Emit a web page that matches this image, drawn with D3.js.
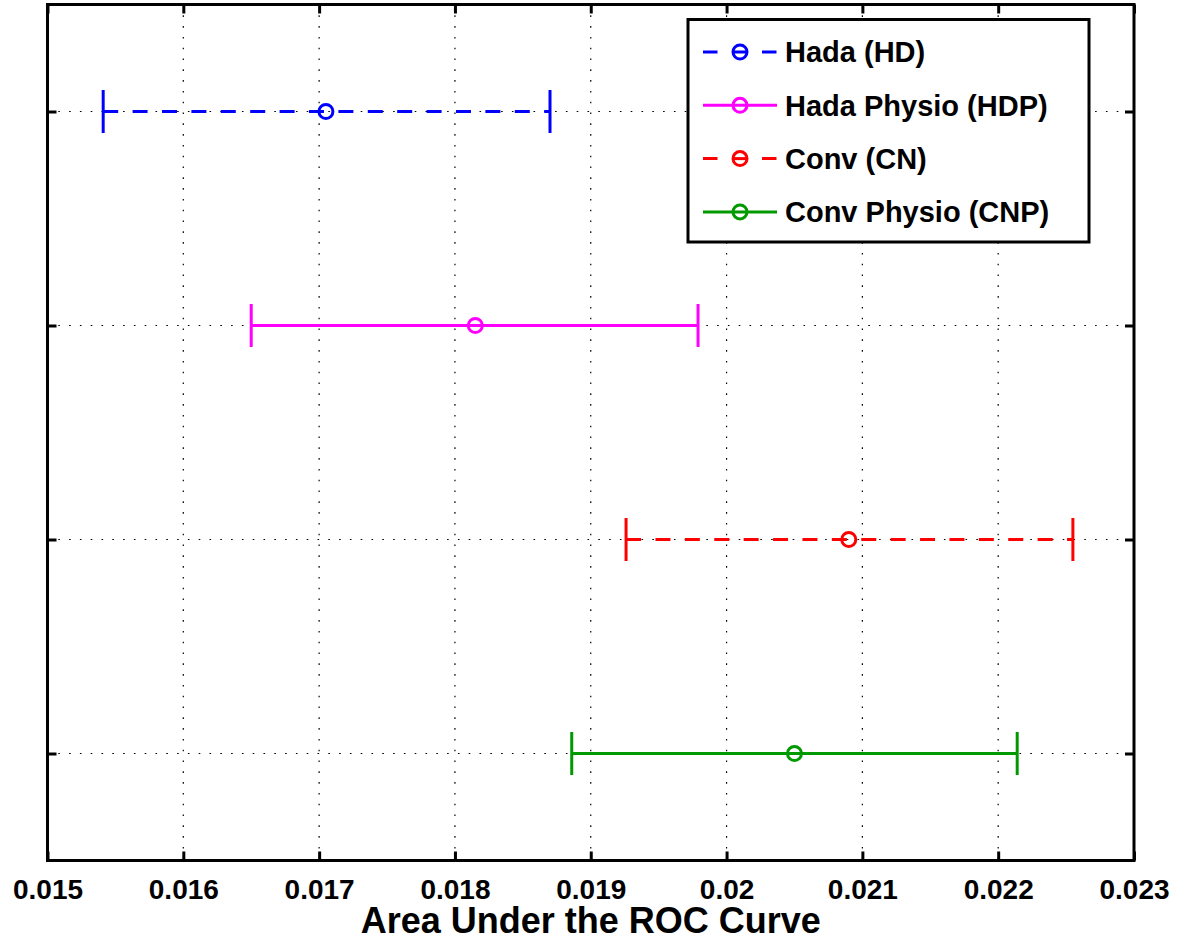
<!DOCTYPE html>
<html>
<head>
<meta charset="utf-8">
<script src="https://cdn.jsdelivr.net/npm/d3@7/dist/d3.min.js"></script>
<style>
  html, body { margin: 0; padding: 0; background: #fff; }
  svg { display: block; }
  text { font-family: "Liberation Sans", Arial, Helvetica, sans-serif; font-weight: bold; fill: #000; }
</style>
</head>
<body>
<svg id="chart" width="1183" height="940"></svg>
<script>
// Methods, their AUC point estimates and interval bounds
const methods = ["Hada (HD)", "Hada Physio (HDP)", "Conv (CN)", "Conv Physio (CNP)"];
const aucMean = [0.01705, 0.01815, 0.02090, 0.02050];
const aucLow  = [0.01541, 0.01650, 0.01926, 0.01886];
const aucHigh = [0.01870, 0.01979, 0.02255, 0.02214];
const rowPos  = [4, 3, 2, 1];
const colors  = ["#0000ff", "#ff00ff", "#ff0000", "#009900"];
const dashed  = [true, false, true, false];

const xTicks = [0.015, 0.016, 0.017, 0.018, 0.019, 0.020, 0.021, 0.022, 0.023];
const xTickLabels = ["0.015", "0.016", "0.017", "0.018", "0.019", "0.02", "0.021", "0.022", "0.023"];
const xTitle = "Area Under the ROC Curve";

const svg = d3.select("#chart");
const pL = 47.5, pR = 1134, pT = 4.5, pB = 860.5;

const x = d3.scaleLinear().domain([0.015, 0.023]).range([pL, pR]);
const y = d3.scaleLinear().domain([0.5, 4.5]).range([pB, pT]);

// dotted grid
const grid = svg.append("g").attr("stroke", "#000").attr("stroke-width", 1.2)
  .attr("stroke-dasharray", "1.6,9.2");
grid.selectAll("line.v").data(xTicks.slice(1, -1)).join("line")
  .attr("x1", d => x(d)).attr("x2", d => x(d))
  .attr("y1", pT).attr("y2", pB);
grid.selectAll("line.h").data(rowPos).join("line")
  .attr("x1", pL).attr("x2", pR)
  .attr("y1", d => y(d)).attr("y2", d => y(d));

// axes: bottom with labels, top/left/right with inward ticks only
const tickLen = 9;
const bottomAxis = d3.axisBottom(x).tickValues(xTicks)
  .tickFormat((d, i) => xTickLabels[i]).tickSizeInner(-tickLen).tickSizeOuter(0).tickPadding(19);
const gB = svg.append("g").attr("transform", `translate(0,${pB})`).call(bottomAxis);
gB.select(".domain").remove();
gB.selectAll("line").attr("stroke", "#000").attr("stroke-width", 3);
gB.selectAll("text").style("font-size", "28px").attr("dy", "0.71em")
  .style("font-family", "'Liberation Sans', Arial, sans-serif").style("font-weight", "bold");

const gT = svg.append("g").attr("transform", `translate(0,${pT})`)
  .call(d3.axisTop(x).tickValues(xTicks).tickFormat("").tickSizeInner(-tickLen).tickSizeOuter(0));
gT.select(".domain").remove();
gT.selectAll("line").attr("stroke", "#000").attr("stroke-width", 3);

const gL = svg.append("g").attr("transform", `translate(${pL},0)`)
  .call(d3.axisLeft(y).tickValues(rowPos).tickFormat("").tickSizeInner(-tickLen).tickSizeOuter(0));
gL.select(".domain").remove();
gL.selectAll("line").attr("stroke", "#000").attr("stroke-width", 3);

const gR = svg.append("g").attr("transform", `translate(${pR},0)`)
  .call(d3.axisRight(y).tickValues(rowPos).tickFormat("").tickSizeInner(-tickLen).tickSizeOuter(0));
gR.select(".domain").remove();
gR.selectAll("line").attr("stroke", "#000").attr("stroke-width", 3);

// frame
svg.append("rect").attr("x", pL).attr("y", pT)
  .attr("width", pR - pL).attr("height", pB - pT)
  .attr("fill", "none").attr("stroke", "#000").attr("stroke-width", 3);

// error bars
const capHalf = 21.5;
const rows = methods.map((m, i) => ({ m, i, mean: aucMean[i], lo: aucLow[i], hi: aucHigh[i], row: rowPos[i] }));
const bars = svg.append("g").selectAll("g").data(rows).join("g")
  .attr("stroke", d => colors[d.i]).attr("stroke-width", 3).attr("fill", "none");
bars.append("line")
  .attr("x1", d => x(d.lo)).attr("x2", d => x(d.hi))
  .attr("y1", d => y(d.row)).attr("y2", d => y(d.row))
  .attr("stroke-dasharray", d => dashed[d.i] ? "15,14.4" : null);
bars.append("line")
  .attr("x1", d => x(d.lo)).attr("x2", d => x(d.lo))
  .attr("y1", d => y(d.row) - capHalf).attr("y2", d => y(d.row) + capHalf);
bars.append("line")
  .attr("x1", d => x(d.hi)).attr("x2", d => x(d.hi))
  .attr("y1", d => y(d.row) - capHalf).attr("y2", d => y(d.row) + capHalf);
bars.append("circle")
  .attr("cx", d => x(d.mean)).attr("cy", d => y(d.row)).attr("r", 7);

// x-axis title
svg.append("text").attr("x", (pL + pR) / 2).attr("y", 933)
  .attr("text-anchor", "middle").style("font-size", "36px").text(xTitle);

// legend
const lg = svg.append("g");
lg.append("rect").attr("x", 688).attr("y", 19.5).attr("width", 401).attr("height", 222.5)
  .attr("fill", "#fff").attr("stroke", "#000").attr("stroke-width", 3);
const lgRowY = i => 52 + i * 53.3;
const items = lg.selectAll("g.item").data(rows).join("g").attr("class", "item");
items.append("line")
  .attr("x1", 703).attr("x2", 777)
  .attr("y1", d => lgRowY(d.i)).attr("y2", d => lgRowY(d.i))
  .attr("stroke", d => colors[d.i]).attr("stroke-width", 3)
  .attr("stroke-dasharray", d => dashed[d.i] ? "14.5,44.5" : null);
items.filter(d => dashed[d.i]).append("line")
  .attr("x1", 733).attr("x2", 747)
  .attr("y1", d => lgRowY(d.i)).attr("y2", d => lgRowY(d.i))
  .attr("stroke", d => colors[d.i]).attr("stroke-width", 3);
items.append("circle")
  .attr("cx", 740).attr("cy", d => lgRowY(d.i)).attr("r", 7)
  .attr("fill", "none").attr("stroke", d => colors[d.i]).attr("stroke-width", 3);
items.append("text")
  .attr("x", 785).attr("y", d => lgRowY(d.i)).attr("dy", "0.36em")
  .style("font-size", "29px").text(d => d.m);
</script>
</body>
</html>
